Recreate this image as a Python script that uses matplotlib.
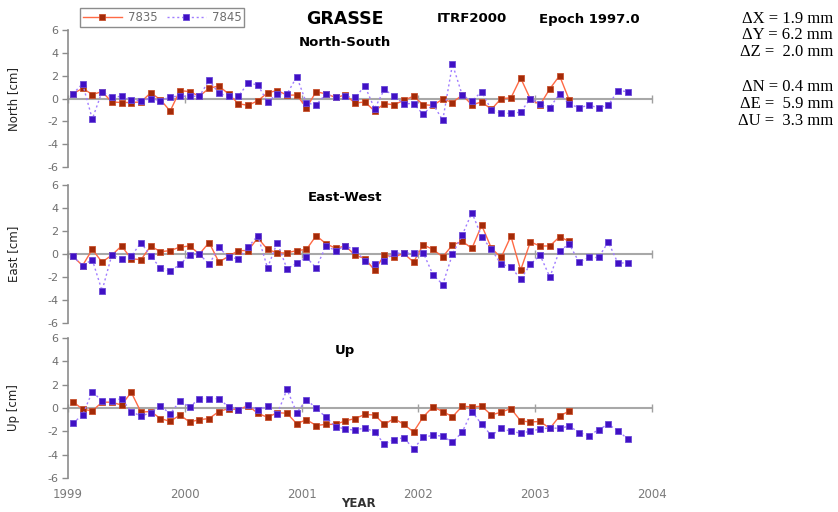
import numpy as np
import matplotlib.pyplot as plt

plt.rcParams['font.family'] = ['DejaVu Sans']
plt.rcParams['axes.unicode_minus'] = False

# Monthly station coordinate residuals at Grasse [cm], stations 7835 and 7845
stations = ["7835", "7845"]
years = [1999, 2000, 2001, 2002, 2003, 2004]

north_7835 = [0.4, 0.9, 0.35, 0.6, -0.3, -0.35, -0.35, -0.3, 0.5, -0.1,
              -1.1, 0.7, 0.6, 0.2, 0.9, 1.1, 0.4, -0.45, -0.6, -0.2,
              0.5, 0.7, 0.3, 0.3, -0.8, 0.6, 0.4, 0.1, 0.3, -0.4,
              -0.3, -1.1, -0.45, -0.55, -0.15, 0.2, -0.55, -0.6, -0.05, -0.35,
              0.3, -0.55, -0.3, -0.95, 0.0, 0.05, 1.8, -0.05, -0.55, 0.85,
              2.0, -0.15]
north_7845 = [0.4, 1.3, -1.8, 0.6, 0.1, 0.2, -0.1, -0.2, 0.0, -0.2,
              0.15, 0.2, 0.2, 0.2, 1.6, 0.45, 0.2, 0.2, 1.35, 1.2,
              -0.3, 0.4, 0.4, 1.9, -0.4, -0.55, 0.4, 0.1, 0.2, 0.1,
              1.1, -0.9, 0.8, 0.2, -0.45, -0.45, -1.4, -0.5, -1.9, 3.0,
              0.3, -0.2, 0.6, -1.0, -1.3, -1.3, -1.2, 0.0, -0.5, -0.8,
              0.4, -0.5, -0.8, -0.6, -0.8, -0.6, 0.7, 0.6]

east_7835 = [-0.2, -1.0, 0.4, -0.7, -0.1, 0.7, -0.4, -0.5, 0.7, 0.2,
             0.3, 0.6, 0.7, 0.0, 1.0, -0.7, -0.2, 0.3, 0.3, 1.4,
             0.4, 0.1, 0.1, 0.3, 0.4, 1.6, 0.9, 0.5, 0.7, -0.1,
             -0.4, -1.4, -0.1, -0.25, 0.05, -0.7, 0.8, 0.4, -0.25, 0.8,
             1.1, 0.5, 2.5, 0.5, -0.3, 1.55, -1.4, 1.05, 0.7, 0.7,
             1.5, 1.1]
east_7845 = [-0.2, -1.0, -0.5, -3.2, -0.1, -0.4, -0.2, 1.0, -0.2, -1.2,
             -1.5, -0.9, -0.1, 0.0, -0.9, 0.6, -0.3, -0.4, 0.6, 1.6,
             -1.2, 1.0, -1.3, -0.8, -0.3, -1.2, 0.7, 0.3, 0.7, 0.35,
             -0.6, -0.9, -0.6, 0.1, 0.05, 0.1, 0.1, -1.8, -2.65, 0.0,
             1.65, 3.6, 1.5, 0.4, -0.9, -1.1, -2.2, -0.9, -0.1, -2.0,
             0.3, 0.85, -0.7, -0.3, -0.3, 1.05, -0.8, -0.75]

up_7835 = [0.55, -0.1, -0.25, 0.5, 0.5, 0.25, 1.35, -0.35, -0.3, -0.9,
           -1.15, -0.6, -1.2, -1.0, -0.9, -0.3, -0.05, -0.15, 0.2, -0.45,
           -0.8, -0.4, -0.45, -1.35, -1.0, -1.5, -1.4, -1.4, -1.1, -0.9,
           -0.55, -0.6, -1.4, -0.9, -1.4, -2.05, -0.75, 0.1, -0.3, -0.75,
           0.15, 0.1, 0.15, -0.6, -0.35, -0.05, -1.1, -1.2, -1.15, -1.75,
           -0.7, -0.25]
up_7845 = [-1.3, -0.6, 1.4, 0.6, 0.6, 0.8, -0.3, -0.7, -0.4, 0.2,
           -0.5, 0.6, 0.1, 0.8, 0.8, 0.8, 0.1, -0.2, 0.3, -0.2,
           0.2, -0.5, 1.6, -0.4, 0.7, 0.0, -0.8, -1.6, -1.8, -1.9,
           -1.7, -2.05, -3.1, -2.7, -2.55, -3.5, -2.5, -2.35, -2.4, -2.95,
           -2.05, -0.3, -1.4, -2.35, -1.75, -2.0, -2.15, -2.0, -1.8, -1.7,
           -1.75, -1.55, -2.1, -2.4, -1.85, -1.4, -1.95, -2.65]

panels = [
    ("North-South", "North [cm]", north_7835, north_7845),
    ("East-West", "East [cm]", east_7835, east_7845),
    ("Up", "Up [cm]", up_7835, up_7845),
]

# mid-month epochs of the monthly solutions
epoch_7835 = 1999 + (np.arange(len(north_7835)) + 0.5) / 12
epoch_7845 = 1999 + (np.arange(len(north_7845)) + 0.5) / 12

fig = plt.figure(figsize=(8.38, 5.12), dpi=100)

rects = [
    [0.0811, 0.6738, 0.697, 0.2676],
    [0.0811, 0.3691, 0.697, 0.2695],
    [0.0811, 0.0664, 0.697, 0.2734],
]

grey = "#8c8c8c"
axes = []
for rect, (title, ylabel, s1, s2) in zip(rects, panels):
    ax = fig.add_axes(rect)
    ax.plot(epoch_7835, s1, color="#ff6a45", lw=1.0, ls="-",
            marker="s", ms=4, mfc="#a32a08", mec="#c8502e", mew=0.6,
            label=stations[0])
    ax.plot(epoch_7845, s2, color="#a07cff", lw=1.0, ls=(0, (1.5, 2)),
            marker="s", ms=4, mfc="#4010c4", mec="#6a4ad8", mew=0.6,
            label=stations[1])
    ax.set_xlim(1999, 2004)
    ax.set_ylim(-6, 6)
    ax.set_yticks(np.arange(-6, 7, 2))
    ax.set_xticks(years)

    for side in ["top", "right"]:
        ax.spines[side].set_visible(False)
    ax.spines["left"].set_color(grey)
    ax.spines["left"].set_linewidth(1.2)
    # horizontal axis crosses at zero
    ax.spines["bottom"].set_position(("data", 0))
    ax.spines["bottom"].set_color("#a8a8a8")
    ax.spines["bottom"].set_linewidth(1.5)
    ax.spines["bottom"].set_zorder(0.5)

    ax.tick_params(axis="y", direction="out", length=4, width=1,
                   color=grey, labelsize=8, labelcolor="#6e6e6e", pad=3)
    ax.tick_params(axis="x", direction="inout", length=6, width=1,
                   color="#a0a0a0", labelbottom=False)

    ax.set_ylabel(ylabel, fontsize=8.5, color="#222222")
    ax.yaxis.set_label_coords(-0.082, 0.5)
    ax.text(0.474, 0.91, title, transform=ax.transAxes, ha="center",
            va="center", fontsize=9.5, fontweight="bold")
    axes.append(ax)

# year labels under the lowest panel
sec = axes[2].secondary_xaxis("bottom")
sec.set_xticks(years)
sec.tick_params(length=0, pad=7, labelsize=8.5, labelcolor="#7a7a7a")
sec.spines["bottom"].set_visible(False)

fig.text(358 / 838, 1 - 510 / 512, "YEAR", ha="center", va="bottom",
         fontsize=8.5, fontweight="bold", color="#333333")

# heading
fig.text(345 / 838, 1 - 19 / 512, "GRASSE", ha="center", va="center",
         fontsize=12.5, fontweight="bold")
fig.text(472 / 838, 1 - 19 / 512, "ITRF2000", ha="center", va="center",
         fontsize=9.5, fontweight="bold")
fig.text(589 / 838, 1 - 19 / 512, "Epoch 1997.0", ha="center", va="center",
         fontsize=9.5, fontweight="bold")

leg = fig.legend(*axes[0].get_legend_handles_labels(), loc="upper left",
                 bbox_to_anchor=(80 / 838, 1 - 8 / 512), ncol=2,
                 fontsize=8.5, frameon=True, fancybox=False,
                 handlelength=3.3, handletextpad=0.5, columnspacing=0.8,
                 borderpad=0.25, borderaxespad=0)
leg.get_frame().set_edgecolor("#707070")
leg.get_frame().set_linewidth(1.0)
for t in leg.get_texts():
    t.set_color("#6e6e6e")

# offsets between the two stations
offsets = ["\u0394X = 1.9 mm", "\u0394Y = 6.2 mm", "\u0394Z =  2.0 mm",
           "\u0394N = 0.4 mm", "\u0394E =  5.9 mm", "\u0394U =  3.3 mm"]
offset_y = [19, 35, 52, 87, 104, 121]
for txt, yy in zip(offsets, offset_y):
    fig.text(833 / 838, 1 - yy / 512, txt, ha="right", va="center",
             fontsize=12, family=["Liberation Serif", "DejaVu Serif"])

fig.savefig("out.png", dpi=100)
